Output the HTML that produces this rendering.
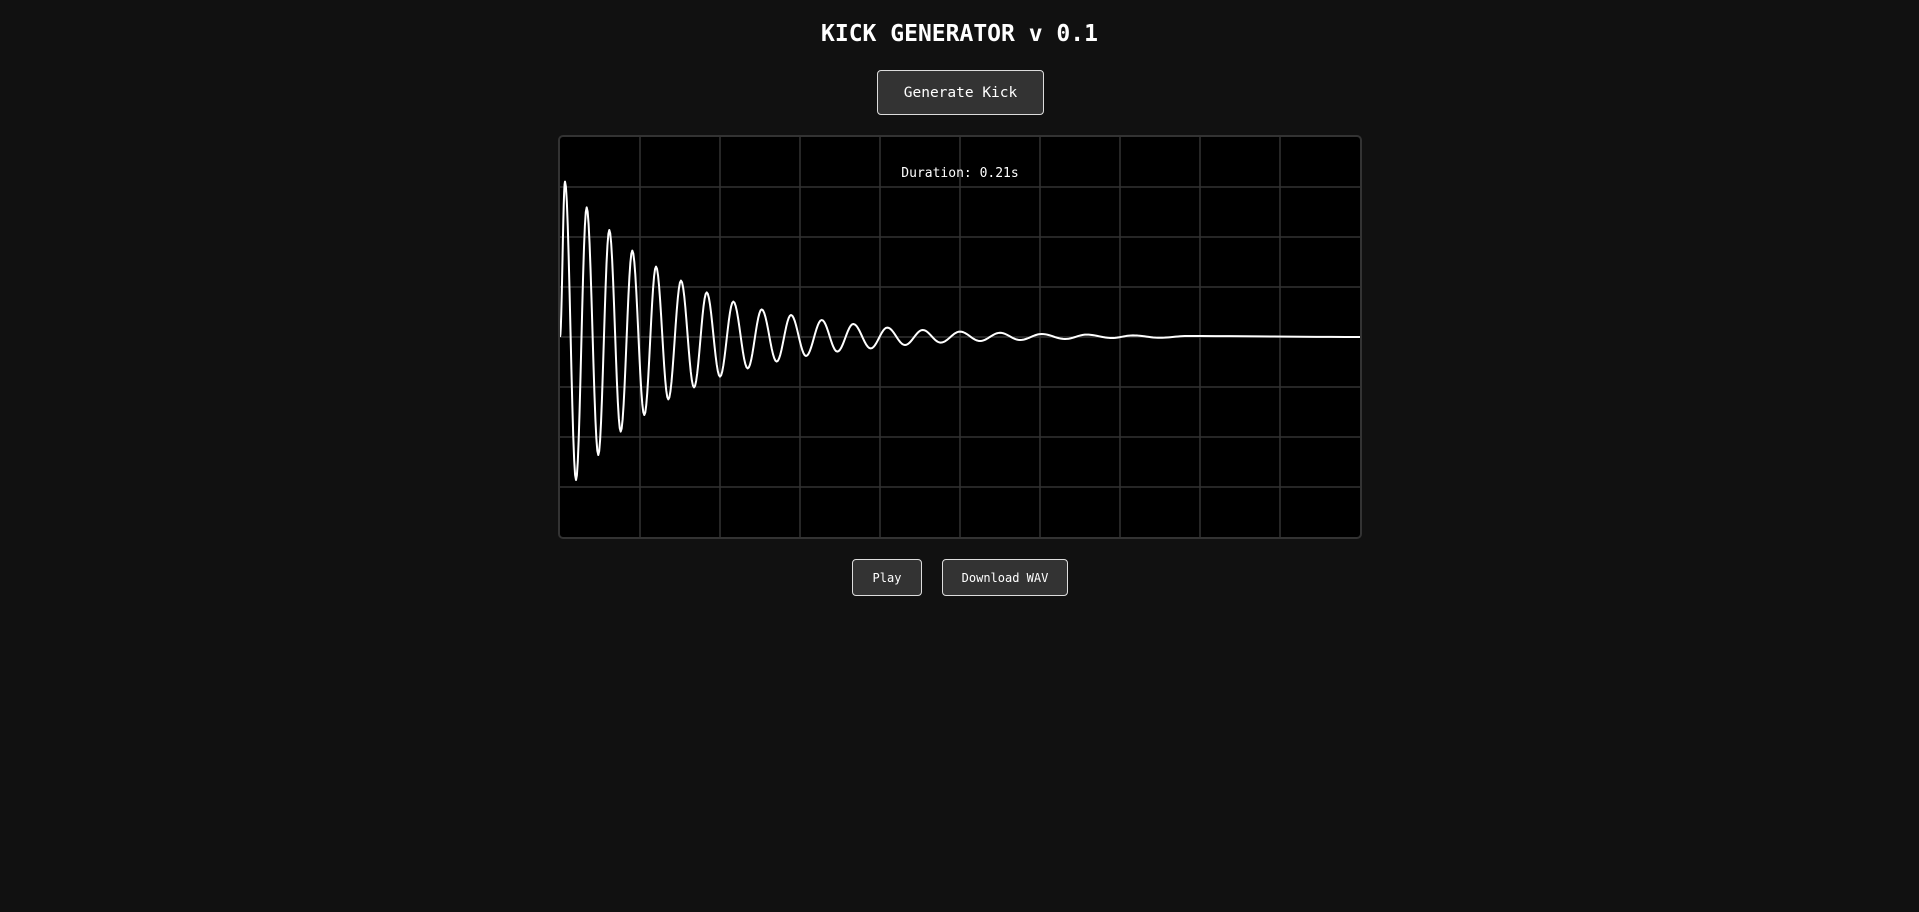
<!DOCTYPE html>
<html><head><meta charset="utf-8"><style>
html,body{margin:0;padding:0;background:#111;width:1919px;height:912px;overflow:hidden;font-family:"DejaVu Sans Mono","Liberation Mono",monospace;color:#fff}
.title{position:absolute;left:0;width:1919px;top:19px;text-align:center;font-size:23px;font-weight:bold;line-height:30px}
.btn{position:absolute;box-sizing:border-box;background:#333;border:1px solid #ddd;border-radius:4px;color:#fff;display:flex;align-items:center;justify-content:center;font-size:12px;white-space:nowrap}
#scope{position:absolute;left:558px;top:135px;width:800px;height:400px;border:2px solid #333;border-radius:5px;background:#000;overflow:hidden}
</style></head><body>
<div class="title">KICK GENERATOR v 0.1</div>
<div class="btn" style="left:877px;top:70px;width:167px;height:45px;font-size:14.5px">Generate Kick</div>
<div id="scope">
<svg id="svg" width="800" height="400" xmlns="http://www.w3.org/2000/svg"></svg>
</div>
<div class="btn" style="left:852px;top:559px;width:70px;height:37px">Play</div>
<div class="btn" style="left:942px;top:559px;width:126px;height:37px">Download WAV</div>
<script>
const durationS = 0.21;
const extremaTimesMs = [0,1.31,4.2,7.0,10.05,12.94,15.93,18.98,22.13,25.2,28.43,31.76,35.18,38.51,42.0,45.49,49.27,52.95,56.88,60.64,64.58,68.7,72.79,76.99,81.56,85.91,90.56,95.21,99.93,105.0,110.25,115.5,120.75,126.45,132.56,138.26,144.82,150.41,157.5,164.59,210];
const extremaAmps = [0,0.777,-0.715,0.648,-0.59,0.535,-0.473,0.432,-0.39,0.352,-0.312,0.282,-0.252,0.223,-0.198,0.177,-0.157,0.138,-0.123,0.11,-0.095,0.085,-0.073,0.065,-0.057,0.047,-0.04,0.035,-0.028,0.027,-0.02,0.021,-0.015,0.015,-0.01,0.012,-0.005,0.008,-0.004,0.005,0];
const NS='http://www.w3.org/2000/svg';
const svg=document.getElementById('svg');
const W=800,H=400;
const xScale=t=>t/(durationS*1000)*W;
const yScale=a=>H/2-a*H/2;
for(let i=1;i<10;i++){
  const l=document.createElementNS(NS,'line');
  
  
  l.setAttribute('x1',i*80);l.setAttribute('x2',i*80);l.setAttribute('y1',0);l.setAttribute('y2',H);
  l.setAttribute('stroke','#333');l.setAttribute('stroke-width','1.5');svg.appendChild(l);
}
for(let i=1;i<8;i++){
  const l=document.createElementNS(NS,'line');
  
  
  l.setAttribute('x1',0);l.setAttribute('x2',W);l.setAttribute('y1',i*50);l.setAttribute('y2',i*50);
  l.setAttribute('stroke','#333');l.setAttribute('stroke-width','1.5');svg.appendChild(l);
}
let d='';
for(let i=0;i<extremaTimesMs.length-1;i++){
  const t0=extremaTimesMs[i],t1=extremaTimesMs[i+1],a0=extremaAmps[i],a1=extremaAmps[i+1];
  const n=12;
  for(let k=(i===0?0:1);k<=n;k++){
    const f=k/n,t=t0+(t1-t0)*f;
    const a=a0+(a1-a0)*(1-Math.cos(Math.PI*f))/2;
    d+=(d?'L':'M')+xScale(t).toFixed(2)+' '+yScale(a).toFixed(2);
  }
}
const p=document.createElementNS(NS,'path');


p.setAttribute('d',d);p.setAttribute('fill','none');p.setAttribute('stroke','#fff');p.setAttribute('stroke-width','2');
p.setAttribute('stroke-linejoin','round');
svg.appendChild(p);
const tx=document.createElementNS(NS,'text');


tx.setAttribute('x',400);tx.setAttribute('y',40);tx.setAttribute('text-anchor','middle');
tx.setAttribute('fill','#fff');tx.setAttribute('font-size','13');
tx.setAttribute('font-family','DejaVu Sans Mono, Liberation Mono, monospace');
tx.textContent='Duration: '+durationS.toFixed(2)+'s';
svg.appendChild(tx);
</script>
</body></html>
